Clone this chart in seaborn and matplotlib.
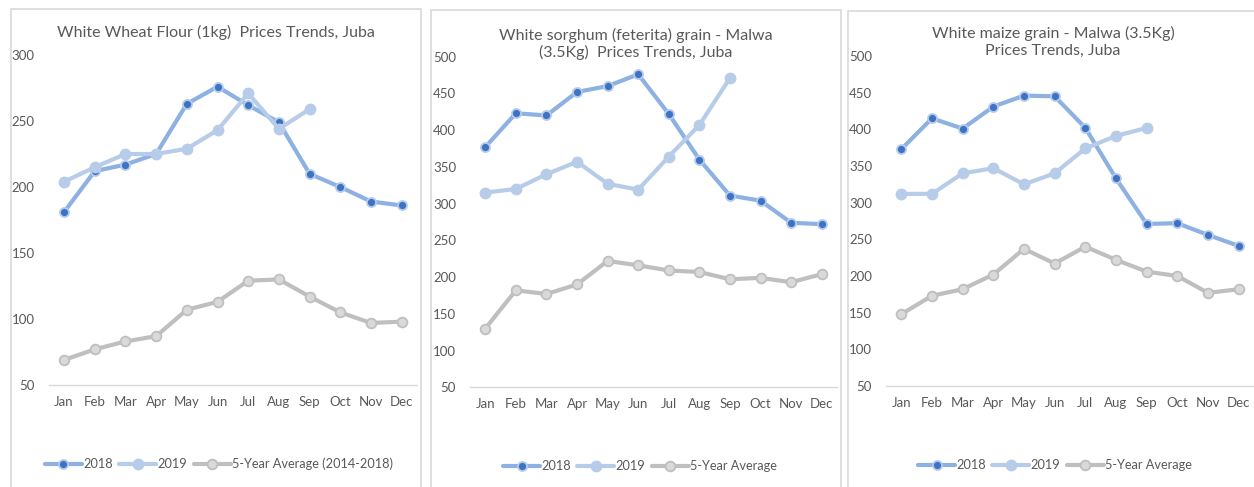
import matplotlib
matplotlib.use("Agg")
import matplotlib.pyplot as plt
import seaborn as sns
import numpy as np
from matplotlib.patches import Rectangle

# ---------------- data ----------------
months = ["Jan", "Feb", "Mar", "Apr", "May", "Jun", "Jul", "Aug", "Sep", "Oct", "Nov", "Dec"]

wheat_2018 = [181, 212, 217, 225, 263, 276, 262, 249, 210, 200, 189, 186]
wheat_2019 = [204, 215, 225, 225, 229, 243, 271, 244, 259]
wheat_avg = [69, 77, 83, 87, 107, 113, 129, 130, 117, 105, 97, 98]

sorghum_2018 = [377, 423, 420, 452, 460, 476, 422, 360, 311, 304, 274, 272]
sorghum_2019 = [315, 320, 340, 357, 327, 319, 364, 407, 471]
sorghum_avg = [130, 182, 177, 190, 222, 216, 209, 207, 197, 199, 193, 204]

maize_2018 = [373, 415, 401, 431, 446, 445, 402, 333, 271, 272, 256, 241]
maize_2019 = [312, 312, 340, 347, 325, 340, 374, 391, 402]
maize_avg = [148, 173, 182, 202, 237, 217, 240, 222, 206, 200, 177, 182]

titles = ["White Wheat Flour (1kg)  Prices Trends, Juba",
          "White sorghum (feterita) grain - Malwa\n(3.5Kg)  Prices Trends, Juba",
          "White maize grain - Malwa (3.5Kg)\nPrices Trends, Juba"]
series_labels = [["2018", "2019", "5-Year Average (2014-2018)"],
                 ["2018", "2019", "5-Year Average"],
                 ["2018", "2019", "5-Year Average"]]
y_limits = [(50, 300), (50, 500), (50, 500)]
y_ticks = [[50, 100, 150, 200, 250, 300],
           [50, 100, 150, 200, 250, 300, 350, 400, 450, 500],
           [50, 100, 150, 200, 250, 300, 350, 400, 450, 500]]

# ---------------- style ----------------
sns.set_style("white")
plt.rcParams["font.family"] = ["Lato", "DejaVu Sans"]
TXT = "#595959"

W, H = 1254, 487
fig = plt.figure(figsize=(W / 100, H / 100), dpi=100)

# panel borders (pixel coords: left, top, right)
borders = [(11, 9, 421), (431, 10, 841), (848, 11, 1262)]
for (l, t, r) in borders:
    fig.patches.append(Rectangle((l / W, -0.05), (r - l) / W, (H - t) / H + 0.05,
                                 transform=fig.transFigure, fill=False,
                                 edgecolor="#D9D9D9", linewidth=1.2, zorder=0))

# axes placement in pixels: x_left, x_right, y_top(ymax), y_bottom(ymin)
ax_px = [(48.7, 417, 55, 385), (470, 837, 56.7, 387.3), (886, 1254, 56, 386)]
title_px = [(215.5, 32), (636, 44), (1053, 42)]
legend_px = [(219, 464), (640, 466), (1055, 465)]

data = [(wheat_2018, wheat_2019, wheat_avg),
        (sorghum_2018, sorghum_2019, sorghum_avg),
        (maize_2018, maize_2019, maize_avg)]

c18_line, c18_face, c18_edge = "#8DB1E2", "#3F72C2", "#B3CBEC"
c19_line = "#B7CCE9"
cav_line, cav_face, cav_edge = "#BFBFBF", "#D9D9D9", "#BFBFBF"

for i, (s18, s19, sav) in enumerate(data):
    xl, xr, yt, yb = ax_px[i]
    ax = fig.add_axes([xl / W, (H - yb) / H, (xr - xl) / W, (yb - yt) / H])
    x18 = np.arange(len(s18))
    x19 = np.arange(len(s19))
    xav = np.arange(len(sav))
    lbl = series_labels[i]
    sns.lineplot(x=x18, y=s18, ax=ax, color=c18_line, linewidth=3.0,
                 marker="o", markersize=6.5, markerfacecolor=c18_face,
                 markeredgecolor=c18_edge, markeredgewidth=1.3, label=lbl[0])
    sns.lineplot(x=x19, y=s19, ax=ax, color=c19_line, linewidth=3.0,
                 marker="o", markersize=7.5, markerfacecolor=c19_line,
                 markeredgecolor=c19_line, markeredgewidth=1.0, label=lbl[1])
    sns.lineplot(x=xav, y=sav, ax=ax, color=cav_line, linewidth=3.0,
                 marker="o", markersize=7.0, markerfacecolor=cav_face,
                 markeredgecolor=cav_edge, markeredgewidth=1.3, label=lbl[2])

    ax.set_xlim(-0.5, 11.5)
    ax.set_ylim(*y_limits[i])
    ax.set_yticks(y_ticks[i])
    ax.set_xticks(np.arange(12))
    ax.set_xticklabels(months)
    ax.tick_params(axis="both", length=0, labelsize=9.5, colors=TXT)
    ax.tick_params(axis="y", pad=10)
    ax.tick_params(axis="x", pad=8)
    ax.set_xlabel("")
    ax.set_ylabel("")
    for sp in ["top", "right", "left"]:
        ax.spines[sp].set_visible(False)
    ax.spines["bottom"].set_color("#D9D9D9")
    ax.spines["bottom"].set_linewidth(1.0)
    ax.patch.set_alpha(0)
    ax.grid(False)

    tx, ty = title_px[i]
    fig.text(tx / W, 1 - ty / H, titles[i], ha="center", va="center",
             fontsize=11.5, color=TXT, linespacing=1.2)

    lx, ly = legend_px[i]
    leg = ax.legend(loc="center", bbox_to_anchor=(lx / W, 1 - ly / H),
                    bbox_transform=fig.transFigure, ncol=3, frameon=False,
                    fontsize=9.2, handlelength=2.9, handletextpad=0.1,
                    columnspacing=0.5, borderaxespad=0)
    for t in leg.get_texts():
        t.set_color(TXT)

fig.savefig("out.png", dpi=100, facecolor="white")
